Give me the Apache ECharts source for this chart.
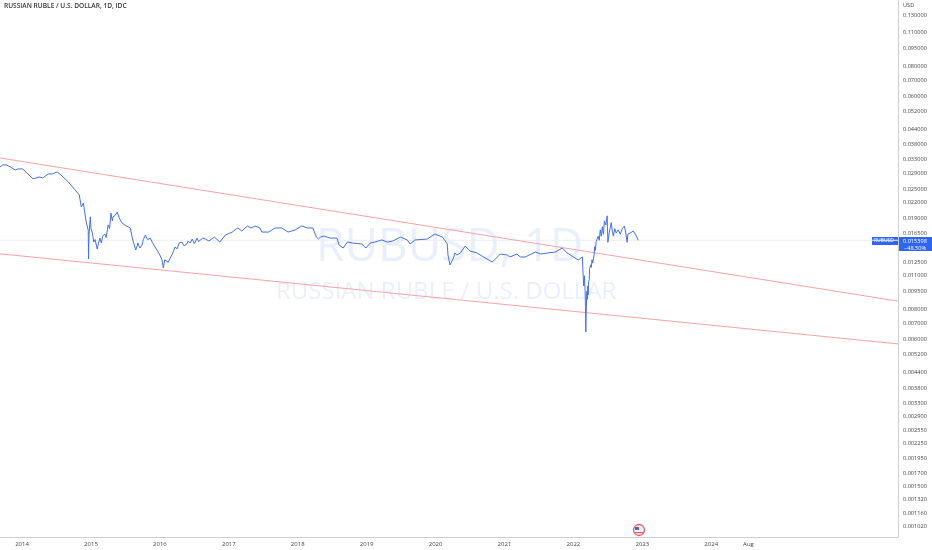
<!DOCTYPE html>
<html><head><meta charset="utf-8">
<style>html,body{margin:0;padding:0;background:#fff}#c{width:932px;height:550px}</style>
<script src="https://cdn.jsdelivr.net/npm/echarts@6/dist/echarts.min.js"></script>
</head><body><div id="c"></div>
<script>
const yearsA = [2013.68,2013.72,2013.77,2013.83,2013.90,2013.94,2014.01,2014.07,2014.16,2014.25,2014.30,2014.38,2014.44,2014.51,2014.58,2014.67,2014.77,2014.83,2014.86,2014.89,2014.93,2014.96,2014.965,2014.97];
const pricesA = [.03083,.03142,.03142,.03083,.02997,.03025,.03025,.02913,.02752,.02804,.02778,.02885,.02885,.02940,.02831,.02675,.02479,.02364,.02110,.02191,.01831,.01696,.01290,.01587];
const yearsB = [2014.99,2015.00,2015.02,2015.03,2015.04,2015.06,2015.09,2015.11,2015.13,2015.15,2015.17,2015.20,2015.22,2015.25,2015.27,2015.29,2015.31,2015.32,2015.35,2015.38,2015.41,2015.43,2015.45,2015.49,2015.52,2015.57,2015.60,2015.62,2015.65,2015.67,2015.68,2015.71,2015.74,2015.76,2015.79,2015.82,2015.86,2015.89,2015.93,2015.96,2016.00,2016.03,2016.05,2016.07,2016.09,2016.12,2016.15,2016.18,2016.22,2016.25,2016.28,2016.32,2016.35,2016.39,2016.41,2016.44,2016.47,2016.50,2016.54,2016.56,2016.58,2016.62,2016.66,2016.71];
const pricesB = [.01922,.0172,.01648,.0158,.01514,.0155,.01417,.0150,.01572,.0150,.0160,.01633,.0158,.0178,.0172,.01992,.0185,.01922,.0195,.02011,.01904,.0192,.01814,.0178,.0176,.0173,.01572,.0150,.01404,.0146,.0150,.0143,.01472,.0155,.01618,.0155,.01572,.0151,.01444,.0140,.01339,.0128,.01185,.0128,.01302,.0125,.01302,.0135,.01444,.0142,.0150,.01514,.0146,.01486,.0153,.0150,.01558,.0149,.01572,.0152,.01514,.0157,.01558,.01529];
const yearsC = [2016.79,2016.87,2016.95,2017.05,2017.13,2017.19,2017.27,2017.32,2017.38,2017.45,2017.48,2017.58,2017.67,2017.77,2017.86,2017.96,2018.06,2018.14,2018.22,2018.27,2018.30,2018.33,2018.38,2018.47,2018.57,2018.60,2018.66,2018.72,2018.80,2018.93,2018.99,2019.05,2019.12,2019.22,2019.30,2019.38,2019.49,2019.59,2019.63,2019.70,2019.88,2019.99,2020.10,2020.17,2020.18,2020.21,2020.26,2020.28,2020.31,2020.36,2020.43,2020.50,2020.60,2020.72,2020.82,2020.87,2020.94,2021.04,2021.08,2021.18,2021.23,2021.30,2021.45,2021.52,2021.63,2021.74,2021.84,2021.91,2022.00,2022.07,2022.13];
const pricesC = [.01587,.01514,.01618,.01664,.01730,.01680,.01763,.01730,.01763,.01730,.01664,.01664,.01730,.01730,.01664,.01696,.01763,.01730,.01730,.01587,.01558,.01587,.01602,.01572,.01572,.01472,.01431,.01514,.01500,.01486,.01431,.01500,.01514,.01544,.01514,.01529,.01587,.01544,.01486,.01544,.01558,.01633,.01587,.01486,.01339,.01219,.01302,.01365,.01339,.01365,.01458,.01391,.01365,.01302,.01254,.01290,.01352,.01339,.01314,.01352,.01314,.01314,.01378,.01352,.01365,.01378,.01431,.01365,.01314,.01278,.01314];
const yearsD = [2022.14,2022.15,2022.16,2022.17,2022.175,2022.18,2022.185,2022.19,2022.195,2022.20,2022.21,2022.215,2022.22,2022.23,2022.235,2022.24,2022.25,2022.26,2022.27,2022.28,2022.30,2022.31,2022.32,2022.33,2022.35,2022.36,2022.375,2022.39,2022.405,2022.42,2022.435,2022.45,2022.47,2022.49,2022.495,2022.50,2022.52,2022.55,2022.565,2022.58,2022.60,2022.62,2022.65,2022.68,2022.71,2022.74,2022.76,2022.78,2022.79,2022.81,2022.84,2022.87,2022.90,2022.92,2022.94];
const pricesD = [.0113,.0100,.0110,.0096,.0082,.00646,.0078,.0085,.0095,.0088,.0100,.0092,.0104,.0106,.0118,.0116,.0122,.0119,.0128,.0124,.0134,.0145,.0140,.0152,.0150,.0160,.0154,.0170,.0160,.0175,.0163,.0185,.0178,.0194,.0175,.0151,.0165,.0182,.0168,.0160,.0172,.0165,.0170,.0163,.0172,.0176,.0165,.0151,.0163,.0160,.0166,.0168,.0163,.0159,.015398];
const upperX = [2013.68,2026.71], upperY = [.03356,.00865];
const lowerX = [2013.68,2026.71], lowerY = [.01354,.00577];
const lastPrice = 0.015398;
const priceTicks = [.13,.11,.095,.08,.07,.06,.052,.044,.038,.033,.029,.025,.022,.019,.0165,.0125,.011,.0095,.008,.007,.006,.0052,.0044,.0038,.0033,.0029,.00255,.00225,.00195,.0017,.0015,.00132,.00116,.00102];
const yearTicks = [2014,2015,2016,2017,2018,2019,2020,2021,2022,2023,2024,2024.54];
const yearLabels = ['2014','2015','2016','2017','2018','2019','2020','2021','2022','2023','2024','Aug'];
const font = '"Open Sans", sans-serif';
const zip = (a,b)=>a.map((v,i)=>[v,b[i]]);
const series = zip(yearsA,pricesA).concat(zip(yearsB,pricesB),zip(yearsC,pricesC),zip(yearsD,pricesD));
const chart = echarts.init(document.getElementById('c'),null,{renderer:'canvas'});
chart.setOption({
  animation:false,
  backgroundColor:'#fff',
  grid:{left:0,right:34,top:0,bottom:13},
  xAxis:{type:'value',min:2013.68,max:2026.71,splitLine:{show:false},
    axisLine:{show:true,onZero:false,lineStyle:{color:'#cfcfcf',width:1}},axisTick:{show:false},
    axisLabel:{customValues:yearTicks,color:'#444',fontSize:6,fontFamily:font,margin:4,
      formatter:v=>yearLabels[yearTicks.indexOf(v)]}},
  yAxis:{type:'log',logBase:10,position:'right',min:.000927,max:.1498,splitLine:{show:false},minorTick:{show:false},
    axisLine:{show:true,onZero:false,lineStyle:{color:'#cfcfcf',width:1}},axisTick:{show:false},
    axisLabel:{customValues:priceTicks,color:'#444',fontSize:5.6,fontFamily:font,margin:5,hideOverlap:false,
      formatter:v=>Number(v).toFixed(6)}},
  series:[
    {type:'line',data:[[2013.68,lastPrice],[2026.71,lastPrice]],showSymbol:false,silent:true,lineStyle:{color:'#e9eef5',width:1}},
    {type:'line',data:zip(upperX,upperY),showSymbol:false,lineStyle:{color:'#f3a3a6',width:1}},
    {type:'line',data:zip(lowerX,lowerY),showSymbol:false,lineStyle:{color:'#f3a3a6',width:1}},
    {type:'line',data:series,showSymbol:false,lineStyle:{color:'#4272e2',width:1}}
  ],
  graphic:[
    {type:'text',z:-1,left:316,top:225,style:{text:'RUBUSD, 1D',fontSize:46,fontFamily:font,fill:'#eaf0fb',fontWeight:500}},
    {type:'text',z:-1,left:276,top:280,style:{text:'RUSSIAN RUBLE / U.S. DOLLAR',fontSize:24,fontFamily:font,fill:'#eaf0fb'}},
    {type:'text',left:4,top:3,style:{text:'RUSSIAN RUBLE / U.S. DOLLAR, 1D, IDC',fontSize:6.6,fontWeight:600,fontFamily:font,fill:'#333'}},
    {type:'text',left:903,top:2,style:{text:'USD',fontSize:5.6,fontFamily:font,fill:'#444'}},
    {type:'rect',shape:{x:872,y:237,width:26,height:8},style:{fill:'#2f66ee'}},
    {type:'text',left:874,top:238,style:{text:'RUBUSD',fontSize:5,fontFamily:font,fill:'#fff'}},
    {type:'rect',shape:{x:898,y:237,width:34,height:14},style:{fill:'#2f66ee'}},
    {type:'text',left:903,top:238,style:{text:'0.015398',fontSize:5.6,fontFamily:font,fill:'#fff'}},
    {type:'text',left:904,top:245,style:{text:'−48.50%',fontSize:5.6,fontFamily:font,fill:'#fff'}},
    {type:'circle',shape:{cx:639,cy:530,r:5.5},style:{fill:'#eef1f8',stroke:'#e0606a',lineWidth:1.3}},
    {type:'rect',shape:{x:635,y:527,width:4,height:3},style:{fill:'#4a6bbd'}},
    {type:'rect',shape:{x:635,y:532,width:8,height:1.2},style:{fill:'#e0606a'}}
  ]
});
</script></body></html>
